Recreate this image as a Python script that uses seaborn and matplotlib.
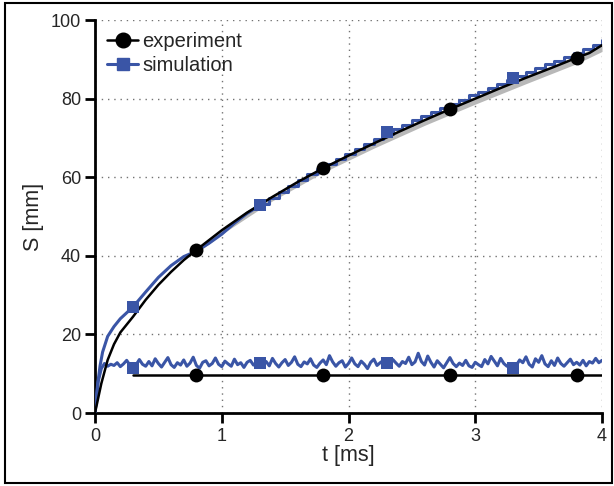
import numpy as np
import matplotlib
matplotlib.use("Agg")
import matplotlib.pyplot as plt
from matplotlib.lines import Line2D
from matplotlib.patches import Rectangle
import seaborn as sns

# --- measured penetration S(t), experiment ---
exp_t = [0.0, 0.05, 0.1, 0.15, 0.2, 0.3, 0.4, 0.5, 0.6, 0.7, 0.8, 1.0, 1.2, 1.4,
         1.6, 1.8, 2.0, 2.2, 2.4, 2.6, 2.8, 3.0, 3.2, 3.4, 3.6, 3.8, 3.9, 4.0]
exp_S = [0.0, 7.5, 13.5, 17.5, 20.5, 24.5, 28.8, 32.6, 35.9, 38.9, 41.5, 46.5, 51.0, 55.0,
         58.8, 62.3, 65.5, 68.6, 71.6, 74.5, 77.3, 80.0, 82.7, 85.3, 87.8, 90.4, 91.6, 93.6]

# scatter band of the experiment
band_t = [0.8, 1.0, 1.4, 1.8, 2.2, 2.6, 3.0, 3.4, 3.8, 4.0]
band_lo = [40.6, 45.5, 54.0, 61.2, 67.4, 73.2, 78.6, 83.8, 88.9, 92.0]
band_hi = [41.9, 46.9, 55.4, 62.7, 69.0, 74.9, 80.4, 85.7, 90.8, 94.0]

# experiment markers
exp_mark_t = [0.8, 1.8, 2.8, 3.8]
exp_mark_S = [41.5, 62.3, 77.3, 90.4]

# --- simulation, smooth early part ---
sim_t = [0.0, 0.02, 0.04, 0.06, 0.1, 0.15, 0.2, 0.3, 0.4, 0.5, 0.6, 0.7, 0.8, 0.9, 1.0,
         1.1, 1.2, 1.3]
sim_S = [0.0, 7.0, 12.0, 15.5, 19.5, 22.0, 24.0, 27.0, 30.8, 34.5, 37.5, 39.8, 41.2, 43.2,
         45.5, 48.3, 50.8, 52.8]

# simulation, stepped later part
sim_step_t = [1.3, 1.375, 1.45, 1.525, 1.6, 1.675, 1.75, 1.825, 1.9, 1.975, 2.05, 2.125,
              2.2, 2.275, 2.35, 2.425, 2.5, 2.575, 2.65, 2.725, 2.8, 2.875, 2.95, 3.025,
              3.1, 3.175, 3.25, 3.325, 3.4, 3.475, 3.55, 3.625, 3.7, 3.775, 3.85, 3.925, 4.0]
sim_step_S = [53.2, 54.8, 56.3, 57.8, 59.3, 60.8, 62.1, 63.4, 64.7, 66.0, 67.2, 68.5,
              69.7, 71.0, 72.3, 73.4, 74.5, 75.6, 76.7, 77.7, 78.7, 79.7, 80.8, 81.8,
              82.8, 83.8, 84.8, 85.8, 86.8, 87.7, 88.7, 89.6, 90.6, 91.5, 92.5, 93.6, 94.8]

sim_mark_t = [0.3, 1.3, 2.3, 3.3]
sim_mark_S = [27.0, 52.9, 71.6, 85.2]

# --- lower pair: experiment level and simulated fluctuating level ---
exp_low_t = [0.3, 4.0]
exp_low_S = [9.7, 9.7]
exp_low_mark_t = [0.8, 1.8, 2.8, 3.8]
exp_low_mark_S = [9.7, 9.7, 9.7, 9.7]

sim_low_S = [
    0.0, 8.0, 11.3, 12.6, 11.9, 12.4, 12.1, 12.8, 11.8, 12.5, 13.4, 12.2, 11.5, 12.3, 13.6, 12.4,
    11.9, 13.1, 12.0, 13.8, 12.6, 11.7, 12.9, 14.1, 12.3, 11.6, 12.8, 12.2, 13.5, 11.9, 12.7, 14.2,
    12.1, 11.4, 12.9, 13.3, 12.0, 12.6, 14.0, 12.4, 11.8, 13.2, 12.5, 11.9, 13.7, 12.3, 12.8, 11.6,
    12.9, 13.4, 12.2, 12.9, 12.7, 12.5, 13.1, 12.0, 13.9, 12.6, 11.7, 12.8, 13.6, 12.1, 12.9, 14.3,
    12.4, 11.8, 13.0, 12.5, 13.8, 12.2, 11.6, 12.7, 13.5, 12.3, 14.6, 13.0, 11.9, 12.8, 13.3, 11.7,
    12.6, 14.0, 12.5, 11.8, 13.2, 12.4, 11.3, 12.9, 13.7, 12.1, 12.8, 13.4, 12.8, 12.0, 13.6, 12.7,
    11.9, 13.1, 12.6, 14.2, 12.3, 13.0, 15.2, 13.1, 12.2, 14.5, 12.9, 11.7, 13.3, 12.4, 11.5, 12.8,
    14.1, 12.6, 11.8, 12.7, 12.1, 13.4, 12.0, 11.6, 12.9, 12.3, 11.8, 13.6, 12.5, 14.4, 13.2, 12.0,
    13.9, 12.6, 11.9, 12.4, 11.4, 12.2, 13.5, 12.8, 14.3, 12.4, 11.7, 13.8, 12.9, 14.6, 12.5, 11.8,
    13.3, 12.1, 14.0, 12.6, 11.9, 12.8, 13.7, 12.3, 12.9, 12.2, 13.4, 12.0, 13.1, 12.7, 13.9, 12.8,
    13.4]
sim_low_t = np.linspace(0.0, 4.0, len(sim_low_S))
sim_low_mark_t = [0.3, 1.3, 2.3, 3.3]
sim_low_mark_S = [11.5, 12.7, 12.8, 11.4]

x_ticks = [0, 1, 2, 3, 4]
y_ticks = [0, 20, 40, 60, 80, 100]

BLUE = "#3a55a6"
BLACK = "black"

sns.set_style("white")
plt.rcParams["font.family"] = ["Liberation Sans", "DejaVu Sans"]
plt.rcParams["font.size"] = 13

fig = plt.figure(figsize=(6.14, 4.86), dpi=100)
ax = fig.add_axes([0.1547, 0.1502, 0.8258, 0.8086])

ax.fill_between(band_t, band_lo, band_hi, color="0.72", lw=0, zorder=2)

# lower curves
sns.lineplot(x=sim_low_t, y=sim_low_S, color=BLUE, lw=2.2, ax=ax, zorder=3)
sns.lineplot(x=exp_low_t, y=exp_low_S, color=BLACK, lw=1.8, ax=ax, zorder=4)

# upper curves
sns.lineplot(x=exp_t, y=exp_S, color=BLACK, lw=1.8, ax=ax, zorder=4)
sns.lineplot(x=sim_t, y=sim_S, color=BLUE, lw=2.2, ax=ax, zorder=3)
sns.lineplot(x=sim_step_t, y=sim_step_S, color=BLUE, lw=2.2, ax=ax, zorder=3,
             drawstyle="steps-post")

# markers
sns.scatterplot(x=exp_mark_t + exp_low_mark_t, y=exp_mark_S + exp_low_mark_S,
                marker="o", color=BLACK, s=100, linewidth=0, ax=ax, zorder=6)
sns.scatterplot(x=sim_mark_t + sim_low_mark_t, y=sim_mark_S + sim_low_mark_S,
                marker="s", color=BLUE, s=82, linewidth=0, ax=ax, zorder=5)

ax.set_xlim(0, 4)
ax.set_ylim(0, 100)
ax.set_xticks(x_ticks)
ax.set_yticks(y_ticks)
ax.set_xticklabels([str(v) for v in x_ticks])
ax.set_yticklabels([str(v) for v in y_ticks])

ax.grid(True, linestyle=(0, (1, 3.5)), color="0.45", lw=1.0)
ax.set_axisbelow(True)
for side in ("top", "right"):
    ax.spines[side].set_visible(False)
for side in ("left", "bottom"):
    ax.spines[side].set_linewidth(2)
    ax.spines[side].set_color("black")
ax.tick_params(direction="out", length=7, width=2, color="black", labelsize=13,
               left=True, bottom=True)
ax.tick_params(axis="x", pad=4)
ax.tick_params(axis="y", pad=3)

ax.set_xlabel("t [ms]", fontsize=15.5, labelpad=0)
ax.set_ylabel("S [mm]", fontsize=15.5, labelpad=5)

handles = [
    Line2D([], [], color=BLACK, lw=1.8, marker="o", ms=10.5),
    Line2D([], [], color=BLUE, lw=2.2, marker="s", ms=9),
]
ax.legend(handles, ["experiment", "simulation"], loc="upper left", frameon=False,
          fontsize=14.5, handlelength=1.55, handletextpad=0.2, labelspacing=0.25,
          borderaxespad=0.2, bbox_to_anchor=(0.0, 1.0))

fig.patches.append(Rectangle((0.008, 0.006), 0.9886, 0.9876, transform=fig.transFigure,
                             fill=False, lw=1.5, ec="black"))

fig.savefig("out.png", dpi=100)
